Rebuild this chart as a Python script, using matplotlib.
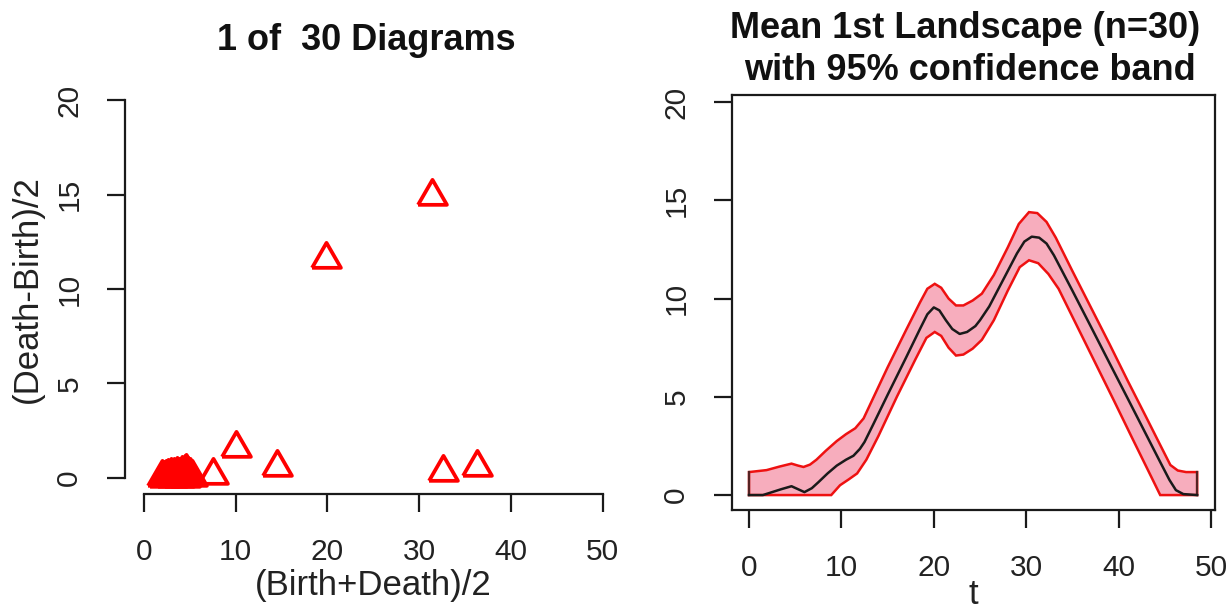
import matplotlib
matplotlib.use("Agg")
import matplotlib.pyplot as plt
import numpy as np

plt.rcParams['font.family'] = ['Liberation Sans', 'DejaVu Sans']

# ---- Left panel: persistence diagram (1 of 30) ----
diag_x = [31.4, 19.8, 10.0, 14.5, 7.5, 32.6, 36.3,
          2.0, 2.2, 2.35, 2.5, 2.65, 2.8, 2.95, 3.0, 3.1, 3.25, 3.4, 3.55, 3.7, 3.8,
          3.85, 4.0, 4.15, 4.3, 4.45, 4.5, 4.6, 4.75, 4.9, 5.05, 5.2]
diag_y = [14.95, 11.6, 1.6, 0.6, 0.15, 0.3, 0.6,
          0.03, 0.0, 0.05, 0.03, 0.1, 0.05, 0.15, 0.0, 0.08, 0.18, 0.05, 0.22, 0.1, 0.0,
          0.15, 0.03, 0.25, 0.12, 0.3, 0.0, 0.38, 0.2, 0.08, 0.15, 0.03]

# ---- Right panel: mean landscape with band ----
mean_t = [0, 1.5, 2.5, 3.5, 4.6, 5.3, 6.0, 6.8, 7.5, 8.5, 9.5, 10.5, 11.3, 12.0, 12.5,
          13.5, 15, 17, 18.5, 19.3, 20.0, 20.6, 21.3, 22.0, 22.8, 23.6, 24.5, 25.0,
          26, 27, 28, 29, 29.8, 30.6, 31.4, 32.2, 33, 35, 37, 39, 41, 43, 44.5,
          45.5, 46.2, 47, 48.5]
mean_y = [0, 0, 0.15, 0.3, 0.45, 0.3, 0.15, 0.35, 0.65, 1.1, 1.5, 1.8, 2.0, 2.35, 2.7,
          3.65, 5.1, 7.0, 8.45, 9.2, 9.55, 9.4, 8.9, 8.45, 8.2, 8.3, 8.6, 8.9,
          9.6, 10.5, 11.4, 12.3, 12.9, 13.15, 13.1, 12.8, 12.2, 10.4, 8.57, 6.73, 4.9, 3.06, 1.68,
          0.77, 0.25, 0.05, 0]

upper_t = [0, 1.9, 3.3, 4.6, 5.3, 5.9, 6.6, 7.3, 8.3, 9.5, 10.5, 11.5, 12.4, 13.5, 15, 17,
           18.5, 19.3, 20.1, 20.8, 21.6, 22.4, 23.2, 24.2, 25.2, 26.5, 28, 29.2, 30.3,
           31.2, 32.2, 33.2, 35, 37, 39, 41, 43, 44.5, 45.6, 46.4, 47.3, 48.5]
upper_y = [1.17, 1.27, 1.45, 1.6, 1.5, 1.43, 1.55, 1.8, 2.25, 2.75, 3.1, 3.4, 3.9, 5.0, 6.5, 8.4,
           9.8, 10.5, 10.75, 10.55, 10.0, 9.65, 9.65, 9.9, 10.25, 11.2, 12.6, 13.8, 14.4,
           14.35, 13.9, 13.1, 11.4, 9.55, 7.7, 5.8, 3.95, 2.55, 1.53, 1.25, 1.17, 1.17]

lower_t = [0, 8.9, 9.85, 10.8, 11.7, 12.7, 14, 16, 18, 19.2, 20.1, 20.8, 21.6, 22.4, 23.2,
           24.2, 25.2, 26.5, 28, 29.3, 30.3, 31.3, 32.4, 33.5, 35.5, 37.5, 39.5, 41.5,
           43.5, 44.5, 48.5]
lower_y = [0, 0, 0.5, 0.8, 1.1, 1.8, 3.0, 5.0, 6.9, 8.0, 8.3, 8.1, 7.5, 7.1, 7.15,
           7.45, 7.9, 8.9, 10.4, 11.6, 11.95, 11.8, 11.25, 10.5, 8.6, 6.7, 4.8, 2.87,
           0.96, 0, 0]

ticks = [0, 10, 20, 30, 40, 50]
yticks = [0, 5, 10, 15, 20]

fig = plt.figure(figsize=(12.29, 6.11), dpi=100)

TICK_FS = 21.5
LAB_FS = 25
TITLE_FS = 26
AXCOL = '#1a1a1a'
TXTCOL = '#222222'

# Left axes
ax1 = fig.add_axes([125/1229, 1-494/611, 496/1229, 409/611])
ax1.set_xlim(-2.07, 52)
ax1.set_ylim(-0.85, 20.8)
tri = [(-1, -0.577), (1, -0.577), (0, 1.155), (-1, -0.577)]
ax1.plot(diag_x, diag_y, linestyle='none', marker=tri, markersize=24,
         markerfacecolor='none', markeredgecolor='#ff0000', markeredgewidth=2.7)
for s in ['top', 'right']:
    ax1.spines[s].set_visible(False)
ax1.spines['left'].set_bounds(0, 20)
ax1.spines['bottom'].set_bounds(0, 50)
for s in ['left', 'bottom']:
    ax1.spines[s].set_linewidth(1.6)
    ax1.spines[s].set_color(AXCOL)
ax1.set_xticks(ticks)
ax1.set_yticks(yticks)
ax1.tick_params(axis='both', length=13, width=1.6, color=AXCOL, labelsize=TICK_FS,
                labelcolor=TXTCOL)
ax1.tick_params(axis='x', pad=19)
ax1.tick_params(axis='y', pad=17, labelrotation=90)
for lab in ax1.get_yticklabels():
    lab.set_verticalalignment('center')
ax1.set_xlabel('(Birth+Death)/2', fontsize=LAB_FS, labelpad=2, color=TXTCOL)
ax1.set_ylabel('(Death-Birth)/2', fontsize=LAB_FS, labelpad=8, color=TXTCOL)
fig.text(366/1229, 1-40/611, '1 of  30 Diagrams', fontsize=TITLE_FS, fontweight='bold',
         ha='center', va='center', color='#111111')

# Right axes
ax2 = fig.add_axes([732/1229, 1-510/611, 483/1229, 415/611])
ax2.set_xlim(-1.84, 50.43)
ax2.set_ylim(-0.76, 20.36)
poly_t = list(upper_t) + list(lower_t[::-1])
poly_y = list(upper_y) + list(lower_y[::-1])
ax2.fill(poly_t, poly_y, facecolor='#f7adbd', edgecolor='#ee1111', linewidth=1.8, zorder=2)
ax2.plot([upper_t[0], lower_t[0]], [upper_y[0], lower_y[0]], color='#552222', lw=1.6, zorder=3)
ax2.plot([upper_t[-1], lower_t[-1]], [upper_y[-1], lower_y[-1]], color='#552222', lw=1.6, zorder=3)
ax2.plot(mean_t, mean_y, color='#1a1a1a', linewidth=1.8, zorder=4)
for s in ax2.spines.values():
    s.set_linewidth(1.6)
    s.set_color(AXCOL)
ax2.set_xticks(ticks)
ax2.set_yticks(yticks)
ax2.tick_params(axis='both', length=13, width=1.6, color=AXCOL, labelsize=TICK_FS,
                labelcolor=TXTCOL)
ax2.tick_params(axis='x', pad=19)
ax2.tick_params(axis='y', pad=17, labelrotation=90)
for lab in ax2.get_yticklabels():
    lab.set_verticalalignment('center')
ax2.set_xlabel('t', fontsize=LAB_FS, labelpad=-3, color=TXTCOL)
fig.text(965/1229, 1-28/611, 'Mean 1st Landscape (n=30)', fontsize=TITLE_FS,
         fontweight='bold', ha='center', va='center', color='#111111')
fig.text(970/1229, 1-70/611, 'with 95% confidence band', fontsize=TITLE_FS,
         fontweight='bold', ha='center', va='center', color='#111111')

fig.savefig('out.png', dpi=100)
